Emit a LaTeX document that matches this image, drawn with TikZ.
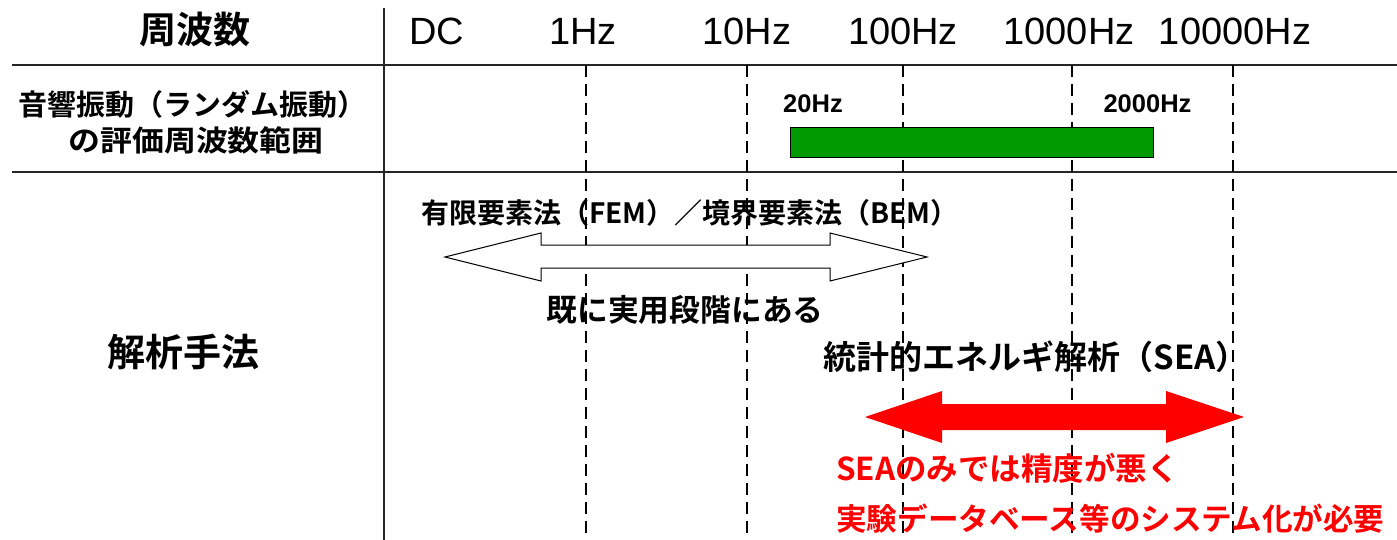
\documentclass[tikz,border=0pt]{standalone}
\usepackage{graphicx}
\usepackage{fontspec}
\setmainfont{Liberation Sans}
\newfontfamily\jp{Noto Sans CJK JP}[BoldFont={Noto Sans CJK JP Bold}]
\begin{document}
\begin{tikzpicture}[x=1pt,y=-1pt,
  gridline/.style={line width=1.3pt, black!85},
  dashline/.style={line width=2pt, black, dash pattern=on 12pt off 7pt},
  hz/.style={inner sep=0pt, font=\fontsize{38}{38}\selectfont},
  small/.style={inner sep=0pt, font=\fontsize{25.5}{25.5}\selectfont\bfseries},
  jlabel/.style={inner sep=0pt, font=\jp\bfseries\fontsize{#1}{#1}\selectfont},
  redlabel/.style={inner sep=0pt, text=red, font=\jp\bfseries\fontsize{#1}{#1}\selectfont}
]
\useasboundingbox (0,0) rectangle (1397,540);
% grid lines
\coordinate (vtop) at (384,8);
\coordinate (vbot) at (384,540);
\coordinate (h1l) at (12,65);
\coordinate (h1r) at (1397,65);
\coordinate (h2l) at (12,172);
\coordinate (h2r) at (1397,172);
\draw[gridline] (vtop) -- (vbot);
\draw[gridline] (h1l) -- (h1r);
\draw[gridline] (h2l) -- (h2r);
% dashed frequency lines
\foreach \n/\x in {a/586,b/747,c/903,d/1072,e/1233}{
  \coordinate (d\n t) at (\x,65);
  \coordinate (d\n b) at (\x,540);
  \draw[dashline] (d\n t) -- (d\n b);
}
% header
\node[jlabel=37] (hdr) at (195,30) {周波数};
\node[hz] (dc) at (437,31) {DC};
\node[hz] (f1) at (583,31) {1Hz};
\node[hz] (f10) at (747,31) {10Hz};
\node[hz] (f100) at (903,31) {100Hz};
\node[hz] (f1000) at (1069,31) {1000Hz};
\node[hz] (f10000) at (1235,31) {10000Hz};
% evaluation range row
\node[jlabel=29] (ev1) at (192,104) {音響振動（ランダム振動）};
\node[jlabel=29] (ev2) at (196,140) {\scalebox{1.1}[1]{の評価周波数範囲}};
\node[small] (l20) at (813,104) {20Hz};
\node[small] (l2000) at (1147.5,104) {2000Hz};
\node[draw=black, line width=1pt, fill={rgb,255:red,0;green,153;blue,0}, minimum width=363pt, minimum height=30pt, inner sep=0pt, anchor=north west] (bar) at (790,127) {};
% analysis row
\node[jlabel=38] (ana) at (183,352) {解析手法};
\node[jlabel=28] (fem) at (690,213) {有限要素法（FEM）／境界要素法（BEM）};
\draw[line width=1pt, fill=white] (445,257) -- (541,233) -- (541,245) -- (830,245) -- (830,233) -- (927,257) -- (830,281) -- (830,268) -- (541,268) -- (541,281) -- cycle;
\node[jlabel=30.8] (prac) at (685,310) {既に実用段階にある};
\node[jlabel=33] (sea) at (1036,357) {統計的エネルギ解析（SEA）};
\fill[red] (865,417) -- (942,391) -- (942,404) -- (1166,404) -- (1166,391) -- (1244,417) -- (1166,443) -- (1166,430) -- (942,430) -- (942,443) -- cycle;
\node[redlabel=31.5, anchor=west] (r1) at (836,468) {SEAのみでは精度が悪く};
\node[redlabel=30.6, anchor=west] (r2) at (836,519) {実験データベース等のシステム化が必要};
\end{tikzpicture}
\end{document}
